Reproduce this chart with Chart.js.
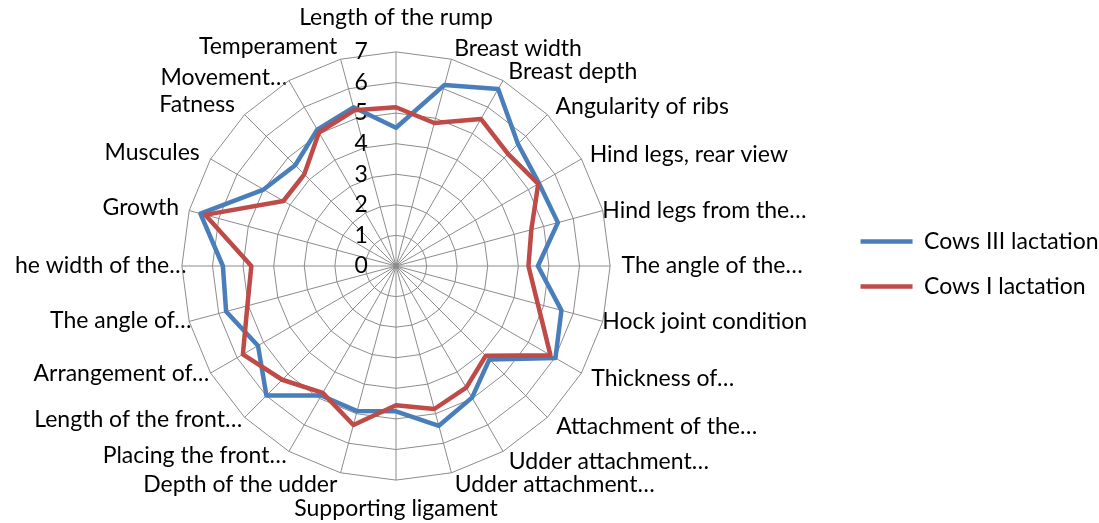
<!DOCTYPE html>
<html>
<head>
<meta charset="utf-8">
<script src="https://cdn.jsdelivr.net/npm/chart.js@4.4.1/dist/chart.umd.min.js"></script>
<style>
  html, body { margin: 0; padding: 0; background: #fff; }
  #wrap { width: 1099px; height: 523px; }
</style>
</head>
<body>
<div id="wrap"><canvas id="myChart" width="1099" height="523"></canvas></div>
<script>
// Traits, clockwise from the top
const traits = [
  "Length of the rump", "Breast width", "Breast depth", "Angularity of ribs",
  "Hind legs, rear view", "Hind legs from the…", "The angle of the…",
  "Hock joint condition", "Thickness of…", "Attachment of the…",
  "Udder attachment…", "Udder attachment…", "Supporting ligament",
  "Depth of the udder", "Placing the front…", "Length of the front…",
  "Arrangement of…", "The angle of…", "he width of the…", "Growth",
  "Muscules", "Fatness", "Movement…", "Temperament"
];

const cowsIII = [4.52, 6.13, 6.68, 5.64, 5.40, 5.48, 4.64, 5.60, 6.02, 4.32, 4.97, 5.41,
                 4.75, 4.91, 4.89, 5.99, 5.21, 5.75, 5.66, 6.62, 5.00, 4.66, 5.15, 5.37];
const cowsI = [5.19, 4.84, 5.55, 5.18, 5.37, 4.58, 4.33, 4.80, 5.83, 4.15, 4.59, 4.84,
               4.55, 5.38, 4.79, 5.26, 5.78, 5.03, 4.73, 6.46, 4.25, 4.24, 5.04, 5.27];

const seriesNames = ["Cows III lactation", "Cows I lactation"];
const scaleMax = 7;

const fontFam = "Lato, 'Open Sans', sans-serif";
// pushes the tick numbers to the left of the vertical spoke
const tickPad = "\u2003\u2003\u2003   ";
// distance of each trait label from the outer ring (Excel puts them unevenly)
const labelGap = [21, -3, -3, -2, -4, -14, -2, -14, -2, -1, -2, -1,
                  15, -1, -9, -10, -12, -16, -18, -3, -1, 0, -10, -1];

const ctx = document.getElementById('myChart');

const myChart = new Chart(ctx, {
  type: 'radar',
  data: {
    labels: traits,
    datasets: [{
      label: seriesNames[0],
      data: cowsIII,
      borderColor: '#4a7ebb',
      backgroundColor: '#4a7ebb',
      borderWidth: 4.5,
      pointRadius: 0,
      fill: false,
      borderJoinStyle: 'round',
      order: 1
    }, {
      label: seriesNames[1],
      data: cowsI,
      borderColor: '#be4b48',
      backgroundColor: '#be4b48',
      borderWidth: 4.5,
      pointRadius: 0,
      fill: false,
      borderJoinStyle: 'round',
      order: 0
    }]
  },
  options: {
    responsive: false,
    animation: false,
    layout: { padding: { top: 5, bottom: 0, left: 0, right: -9.5 } },
    plugins: {
      tooltip: { enabled: false },
      // empty title used only as a spacer between the radar and the legend
      title: {
        display: true,
        position: 'right',
        text: ' ',
        weight: 0,
        font: { size: 1, lineHeight: 1 },
        padding: { top: 15, bottom: 0 }
      },
      legend: {
        position: 'right',
        labels: {
          usePointStyle: true,
          pointStyle: 'line',
          pointStyleWidth: 52,
          padding: 22,
          color: '#000',
          font: { family: fontFam, size: 23 },
          sort: (a, b) => a.datasetIndex - b.datasetIndex
        }
      }
    },
    scales: {
      r: {
        min: -0.001,
        max: scaleMax,
        ticks: {
          stepSize: 1,
          showLabelBackdrop: false,
          color: '#000',
          font: { family: fontFam, size: 23 },
          callback: (v) => Math.round(v) + tickPad
        },
        grid: { color: '#8c8c8c', lineWidth: 1 },
        angleLines: { color: '#8c8c8c', lineWidth: 1 },
        pointLabels: {
          color: '#000',
          // tiny line height: each label is centred on its anchor point
          font: { family: fontFam, size: 23, lineHeight: 0.01 },
          padding: (c) => labelGap[c.index]
        }
      }
    }
  }
});
</script>
</body>
</html>
